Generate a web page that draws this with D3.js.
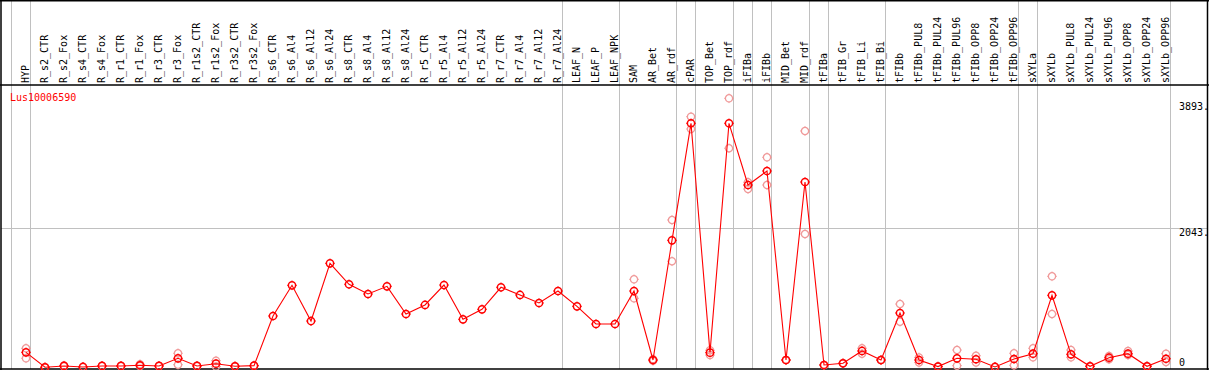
<!DOCTYPE html>
<html>
<head>
<meta charset="utf-8">
<script src="https://cdn.jsdelivr.net/npm/d3@7"></script>
<style>
  body { margin: 0; background: #fff; }
  svg text { font-family: "DejaVu Sans Mono", monospace; font-size: 10px; }
</style>
</head>
<body>
<svg id="chart" width="1209" height="370"></svg>
<script>
// sample names, left to right
const samples = ['HYP','R_s2_CTR','R_s2_Fox','R_s4_CTR','R_s4_Fox','R_r1_CTR','R_r1_Fox','R_r3_CTR','R_r3_Fox',
  'R_r1s2_CTR','R_r1s2_Fox','R_r3s2_CTR','R_r3s2_Fox','R_s6_CTR','R_s6_Al4','R_s6_Al12','R_s6_Al24',
  'R_s8_CTR','R_s8_Al4','R_s8_Al12','R_s8_Al24','R_r5_CTR','R_r5_Al4','R_r5_Al12','R_r5_Al24',
  'R_r7_CTR','R_r7_Al4','R_r7_Al12','R_r7_Al24','LEAF_N','LEAF_P','LEAF_NPK','SAM','AR_Bet','AR_rdf',
  'cPAR','TOP_Bet','TOP_rdf','iFIBa','iFIBb','MID_Bet','MID_rdf','tFIBa','tFIB_Gr','tFIB_Li','tFIB_Bi',
  'tFIBb','tFIBb_PUL8','tFIBb_PUL24','tFIBb_PUL96','tFIBb_OPP8','tFIBb_OPP24','tFIBb_OPP96',
  'sXYLa','sXYLb','sXYLb_PUL8','sXYLb_PUL24','sXYLb_PUL96','sXYLb_OPP8','sXYLb_OPP24','sXYLb_OPP96']

// mean expression
const meanVals = [220,0,20,5,20,20,30,20,132,20,53,15,24,754,1205,680,1528,1220,1077,1190,783,916,1209,705,852,
  1176,1063,945,1121,896,636,636,1121,107,1866,3586,215,3586,2679,2885,107,2723,34,59,240,107,
  798,107,10,132,118,5,122,200,1058,191,15,141,200,15,126]

// replicates (null = none drawn)
const repA = [279,0,25,5,20,20,45,20,206,20,97,15,24,null,null,null,null,null,null,null,null,null,null,null,null,
  null,null,null,null,null,null,null,1293,120,2165,3683,250,3953,2720,3086,107,3473,34,59,280,107,
  930,145,10,254,170,5,206,279,1337,254,15,165,239,15,200]
const repB = [132,0,15,5,20,20,20,20,38,20,10,15,24,null,null,null,null,null,null,null,null,null,null,null,null,
  null,null,null,null,null,null,null,1014,95,1558,3502,180,3219,2620,2679,107,1959,34,59,200,107,
  670,70,10,24,70,5,29,147,783,147,15,118,181,15,78]

// group separators drawn after these sample indices
const groupEnds = [-1,0,28,31,34,35,37,38,39,41,42,45,52,53,60]
const yTicks = [0, 2043, 3893]
const geneName = 'Lus10006590'

const svg = d3.select('#chart')
const W = 1209, H = 370
const plotTop = 85, plotBottom = 369

const x = d3.scalePoint().domain(d3.range(samples.length)).range([26, 1166])
const step = x.step()
const y = d3.scaleLinear().domain([0, 3893]).range([367.3, 102.4])

// grey separators
svg.append('g').selectAll('line').data(groupEnds).join('line')
  .attr('x1', d => 26 + d * step + 4.5).attr('x2', d => 26 + d * step + 4.5)
  .attr('y1', 0).attr('y2', plotBottom)
  .attr('stroke', '#c0c0c0').attr('stroke-width', 1)

// horizontal grid at middle tick
svg.append('line')
  .attr('x1', 1).attr('x2', W - 2)
  .attr('y1', Math.round(y(2043)) + 0.5).attr('y2', Math.round(y(2043)) + 0.5)
  .attr('stroke', '#c0c0c0')

// frame
const frame = svg.append('g').attr('stroke', '#000').attr('stroke-width', 1.5)
frame.append('line').attr('x1', 0).attr('x2', W).attr('y1', 0.75).attr('y2', 0.75)
frame.append('line').attr('x1', 0).attr('x2', W).attr('y1', plotTop).attr('y2', plotTop)
frame.append('line').attr('x1', 0).attr('x2', W).attr('y1', plotBottom).attr('y2', plotBottom)
frame.append('line').attr('x1', 1).attr('x2', 1).attr('y1', 0).attr('y2', H)
frame.append('line').attr('x1', W - 1.5).attr('x2', W - 1.5).attr('y1', 0).attr('y2', H)

// sample labels
svg.append('g').selectAll('text').data(samples).join('text')
  .attr('transform', (d, i) => 'translate(' + (x(i) + 2.5) + ',83) rotate(-90)')
  .attr('fill', '#000')
  .text(d => d)

// y labels
svg.append('g').selectAll('text').data(yTicks).join('text')
  .attr('x', 1179)
  .attr('y', d => d === 0 ? y(d) - 1 : y(d) + 7.8)
  .attr('fill', '#000')
  .text(d => d === 0 ? '0' : d + '.')

svg.append('text').attr('x', 10).attr('y', 101).attr('fill', '#ff0000').text(geneName)

function marker(g, r) {
  g.append('circle').attr('r', r).attr('fill', 'none')
  g.append('path').attr('stroke-width', 1).attr('d',
    'M0,' + (-r - 1.2) + 'V' + (-r) + 'M0,' + r + 'V' + (r + 1.2) +
    'M' + (-r - 1.2) + ',0H' + (-r) + 'M' + r + ',0H' + (r + 1.2))
}

// replicate markers
const reps = []
samples.forEach((s, i) => {
  if (repA[i] != null) reps.push([i, repA[i]])
  if (repB[i] != null) reps.push([i, repB[i]])
})
svg.append('g').attr('stroke', '#f09a9a').attr('stroke-width', 1.3)
  .selectAll('g').data(reps).join('g')
  .attr('transform', d => 'translate(' + x(d[0]) + ',' + y(d[1]) + ')')
  .each(function () { marker(d3.select(this), 3.6) })

// mean line
svg.append('path')
  .datum(meanVals)
  .attr('fill', 'none').attr('stroke', '#ff0000').attr('stroke-width', 1.1)
  .attr('d', d3.line().x((d, i) => x(i)).y(d => y(d)))

svg.append('g').attr('stroke', '#ff0000').attr('stroke-width', 1.5)
  .selectAll('g').data(meanVals).join('g')
  .attr('transform', (d, i) => 'translate(' + x(i) + ',' + y(d) + ')')
  .each(function () { marker(d3.select(this), 3.6) })
</script>
</body>
</html>
